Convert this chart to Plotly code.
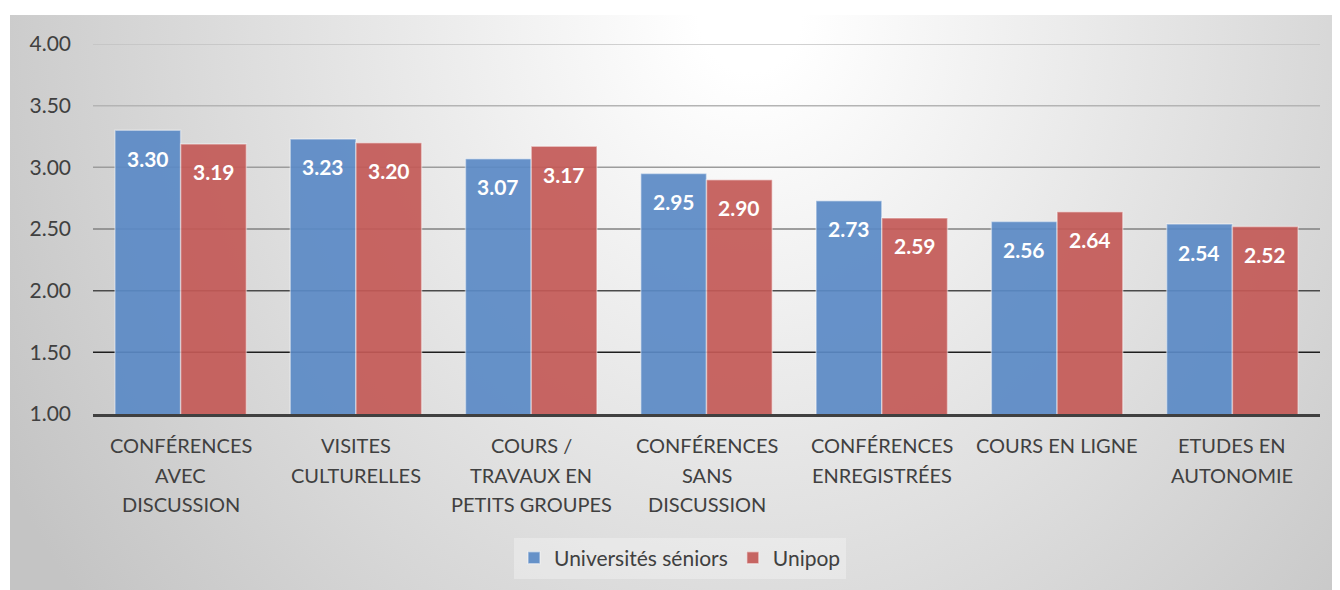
import base64
import plotly.graph_objects as go

# data
categories = [
    "CONFÉRENCES<br>AVEC<br>DISCUSSION",
    "VISITES<br>CULTURELLES",
    "COURS /<br>TRAVAUX EN<br>PETITS GROUPES",
    "CONFÉRENCES<br>SANS<br>DISCUSSION",
    "CONFÉRENCES<br>ENREGISTRÉES",
    "COURS EN LIGNE",
    "ETUDES EN<br>AUTONOMIE",
]
universites_seniors = [3.30, 3.23, 3.07, 2.95, 2.73, 2.56, 2.54]
unipop = [3.19, 3.20, 3.17, 2.90, 2.59, 2.64, 2.52]
y_ticks = [1.0, 1.5, 2.0, 2.5, 3.0, 3.5, 4.0]

FONT = "Lato, Carlito, Calibri, sans-serif"
TEXT_COL = "#404040"
BLUE = "#5b8ac6"
RED = "#c45a57"

# the page body adds an 8px offset, so the figure is drawn 8px in from the top-left
OFF = 8
W, H = 1340 - OFF, 590 - OFF
L, R, T, B = 93 - OFF, 20, 44 - OFF, 176
PW, PH = W - L - R, H - T - B

# radial grey background like the Excel chart area
svg = (
    '<svg xmlns="http://www.w3.org/2000/svg" width="1330" height="575">'
    '<defs><radialGradient id="g" gradientUnits="userSpaceOnUse" cx="740" cy="0" r="850" '
    'gradientTransform="translate(740 0) scale(1 1.12) translate(-740 0)">'
    '<stop offset="0" stop-color="#ffffff"/><stop offset="0.06" stop-color="#ffffff"/>'
    '<stop offset="1" stop-color="#c4c4c4"/></radialGradient></defs>'
    '<rect width="1330" height="575" fill="url(#g)"/></svg>'
)
bg_src = "data:image/svg+xml;base64," + base64.b64encode(svg.encode()).decode()

x = list(range(len(categories)))
bargap = 0.25
half = (1 - bargap) / 4  # centre offset of each bar in a group

fig = go.Figure()
fig.add_trace(go.Bar(x=x, y=universites_seniors, name="Universités séniors",
                     marker=dict(color=BLUE, line=dict(color="rgba(255,255,255,0.45)", width=1.5)),
                     opacity=0.92, hoverinfo="y"))
fig.add_trace(go.Bar(x=x, y=unipop, name="Unipop",
                     marker=dict(color=RED, line=dict(color="rgba(255,255,255,0.45)", width=1.5)),
                     opacity=0.92, hoverinfo="y"))

# gridlines get darker towards the bottom
grid_colors = ["#404040", "#1e1e1e", "#4a4a4a", "#808080", "#9c9c9c", "#b4b4b4", "#c2c2c2"]
shapes = []
for v, c in zip(y_ticks[1:], grid_colors[1:]):
    shapes.append(dict(type="line", xref="paper", yref="y", x0=0, x1=1, y0=v, y1=v,
                       line=dict(color=c, width=1.5), layer="below"))

annotations = []
# value labels inside the top of each bar
for series, sign in [(universites_seniors, -1), (unipop, 1)]:
    for i, v in enumerate(series):
        annotations.append(dict(x=i + sign * half, y=v, xref="x", yref="y", text=f"{v:.2f}",
                                showarrow=False, yshift=-28,
                                font=dict(family=FONT, size=21, color="white", weight="bold")))
# category labels, one annotation per line for Excel-like spacing
for i, cat in enumerate(categories):
    for k, line in enumerate(cat.split("<br>")):
        annotations.append(dict(x=i, y=0, xref="x", yref="paper", text=line, showarrow=False,
                                yanchor="middle", yshift=-31 - k * 29.5,
                                font=dict(family=FONT, size=20, color=TEXT_COL)))

fig.update_layout(
    width=W, height=H,
    margin=dict(l=L, r=R, t=T, b=B),
    paper_bgcolor="white",
    plot_bgcolor="rgba(0,0,0,0)",
    barmode="group", bargap=bargap, bargroupgap=0,
    font=dict(family=FONT, color=TEXT_COL, size=20),
    images=[dict(source=bg_src, xref="paper", yref="paper",
                 x=(10 - 93) / PW, y=(414 - 15) / PH,
                 sizex=1330 / PW, sizey=575 / PH,
                 xanchor="left", yanchor="top", sizing="stretch", layer="below")],
    shapes=shapes,
    annotations=annotations,
    xaxis=dict(range=[-0.5, len(categories) - 0.5], showticklabels=False, showgrid=False,
               zeroline=False, showline=True, linecolor="#404040", linewidth=3, ticks=""),
    yaxis=dict(range=[1, 4], tickvals=y_ticks, tickformat=".2f", showgrid=False,
               zeroline=False, showline=False, ticks="", ticklabelstandoff=21,
               tickfont=dict(family=FONT, size=21, color=TEXT_COL)),
    legend=dict(orientation="h", x=(680 - 93) / PW, y=(414 - 558) / PH,
                xanchor="center", yanchor="middle",
                bgcolor="rgba(255,255,255,0.3)", borderwidth=0,
                font=dict(family=FONT, size=21, color=TEXT_COL),
                itemwidth=30, traceorder="normal"),
    showlegend=True,
)

fig.write_html("out.html")
